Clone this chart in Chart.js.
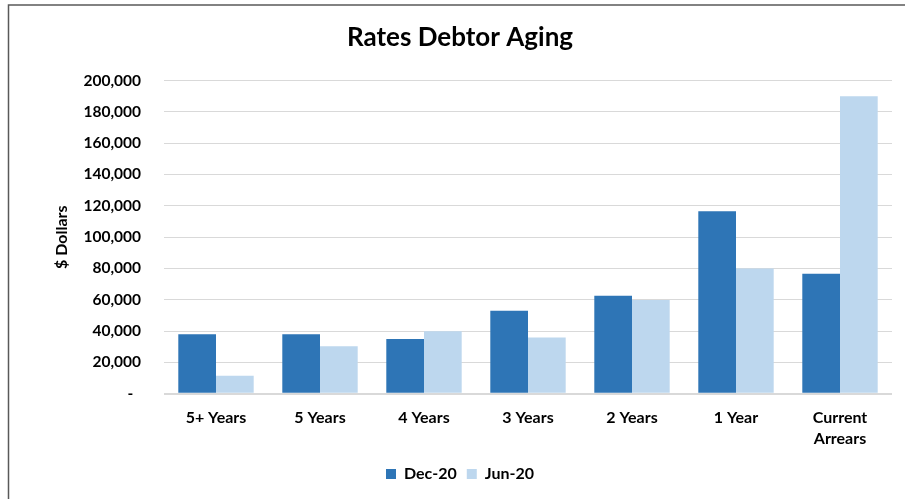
<!DOCTYPE html>
<html>
<head>
<meta charset="utf-8">
<script src="https://cdn.jsdelivr.net/npm/chart.js@4/dist/chart.umd.min.js"></script>
<style>
html,body{margin:0;padding:0;background:#fff;}
canvas{display:block;}
</style>
</head>
<body>
<canvas id="c" width="905" height="499"></canvas>
<script>
const categories = ["5+ Years", "5 Years", "4 Years", "3 Years", "2 Years", "1 Year", ["Current", "Arrears"]];
const dec20 = [38000, 38000, 35000, 53000, 62600, 116600, 76600];
const jun20 = [11500, 30300, 40000, 36000, 59800, 80000, 190000];
const seriesNames = ["Dec-20", "Jun-20"];
const yTicks = { min: 0, max: 200000, step: 20000 };

const FONT = "Lato, 'Open Sans', sans-serif";
const PAD_LEFT = 28;

const borderPlugin = {
  id: 'frame',
  beforeDraw(chart) {
    const ctx = chart.ctx;
    ctx.save();
    ctx.fillStyle = '#fff';
    ctx.fillRect(0, 0, chart.width, chart.height);
    ctx.strokeStyle = '#595959';
    ctx.lineWidth = 1.5;
    ctx.beginPath();
    ctx.moveTo(8.5, chart.height + 2);
    ctx.lineTo(8.5, 5);
    ctx.lineTo(chart.width + 2, 5);
    ctx.stroke();
    ctx.restore();
  }
};

new Chart(document.getElementById('c'), {
  type: 'bar',
  data: {
    labels: categories,
    datasets: [
      { label: seriesNames[0], data: dec20, backgroundColor: '#2E75B6', categoryPercentage: 0.725, barPercentage: 1.0 },
      { label: seriesNames[1], data: jun20, backgroundColor: '#BDD7EE', categoryPercentage: 0.725, barPercentage: 1.0 }
    ]
  },
  plugins: [borderPlugin],
  options: {
    responsive: false,
    animation: false,
    devicePixelRatio: 1,
    layout: { padding: { left: PAD_LEFT, right: 13, top: 0, bottom: 7 } },
    plugins: {
      title: {
        display: true,
        text: 'Rates Debtor Aging',
        color: '#000',
        font: { family: FONT, size: 26, weight: 'bold', lineHeight: 1.2 },
        padding: { top: 22, bottom: 27.3 }
      },
      legend: {
        position: 'bottom',
        labels: {
          color: '#000',
          font: { family: FONT, size: 16, weight: 'bold' },
          boxWidth: 10,
          boxHeight: 10,
          padding: 10
        }
      },
      tooltip: { enabled: false }
    },
    scales: {
      x: {
        grid: { display: false, drawTicks: false },
        border: { display: false },
        ticks: {
          color: '#000',
          font: { family: FONT, size: 16, weight: 'bold', lineHeight: 1.35 },
          padding: 13,
          maxRotation: 0,
          autoSkip: false
        },
        afterFit(scale) { scale.height = 62.2; }
      },
      y: {
        min: yTicks.min,
        max: yTicks.max,
        grid: {
          color: '#d9d9d9',
          lineWidth: (c) => (c.tick && c.tick.value === 0 ? 2 : 1),
          drawTicks: false
        },
        border: { display: false },
        ticks: {
          stepSize: yTicks.step,
          color: '#000',
          font: { family: FONT, size: 15.5, weight: 'bold' },
          padding: 23,
          callback: (v) => (v === 0 ? '-\u2002' : v.toLocaleString('en-US'))
        },
        title: {
          display: true,
          text: '$ Dollars',
          color: '#000',
          font: { family: FONT, size: 16, weight: 'bold' },
          padding: { top: 24, bottom: 0 }
        },
        afterFit(scale) { scale.width = 164 - PAD_LEFT; }
      }
    }
  }
});
</script>
</body>
</html>
